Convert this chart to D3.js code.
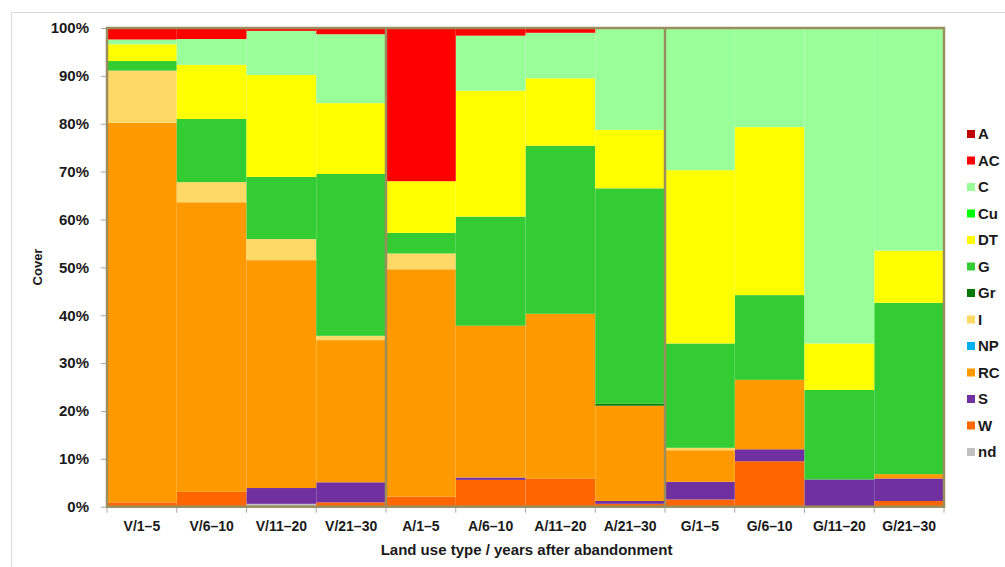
<!DOCTYPE html>
<html>
<head>
<meta charset="utf-8">
<script src="https://cdn.jsdelivr.net/npm/d3@7"></script>
<style>
  html, body { margin: 0; padding: 0; background: #fff; }
  svg { display: block; font-family: "Liberation Sans", Arial, sans-serif; }
</style>
</head>
<body>
<svg id="chart" width="1005" height="567"></svg>
<script>
// Land use type / years after abandonment
const categories = ["V/1–5", "V/6–10", "V/11–20", "V/21–30",
                    "A/1–5", "A/6–10", "A/11–20", "A/21–30",
                    "G/1–5", "G/6–10", "G/11–20", "G/21–30"];

// Cover (%) per cover class, one value per category
const A  = [0, 0, 0, 0, 0, 0, 0, 0, 0, 0, 0, 0];
const AC = [2.4, 2.3, 0.6, 1.3, 32.0, 1.6, 1.0, 0, 0, 0, 0, 0];
const C  = [1.0, 5.4, 9.2, 14.4, 0, 11.5, 9.5, 21.3, 29.7, 20.7, 65.9, 46.5];
const Cu = [0, 0, 0, 0, 0, 0, 0, 0, 0, 0, 0, 0];
const DT = [3.5, 11.3, 21.3, 14.8, 10.8, 26.3, 14.1, 12.2, 36.2, 35.1, 9.7, 10.9];
const G  = [2.0, 13.2, 13.0, 33.8, 4.3, 22.8, 35.1, 45.0, 21.8, 17.7, 18.7, 35.8];
const Gr = [0, 0, 0, 0, 0, 0, 0, 0.4, 0, 0, 0, 0];
const I  = [10.9, 4.2, 4.4, 0.9, 3.3, 0, 0, 0, 0.5, 0, 0, 0];
const NP = [0, 0, 0, 0, 0, 0, 0, 0, 0, 0, 0, 0];
const RC = [79.3, 60.5, 47.6, 29.7, 47.5, 31.7, 34.4, 19.9, 6.6, 14.5, 0, 0.9];
const S  = [0, 0, 3.3, 4.2, 0, 0.5, 0, 0.6, 3.7, 2.5, 5.7, 4.7];
const W  = [0.9, 3.1, 0, 0.9, 2.1, 5.6, 5.9, 0.6, 1.5, 9.5, 0, 1.2];
const nd = [0, 0, 0.6, 0, 0, 0, 0, 0, 0, 0, 0, 0];

// Legend order (top to bottom); stacked bottom-up in reverse
const seriesNames = ["A", "AC", "C", "Cu", "DT", "G", "Gr", "I", "NP", "RC", "S", "W", "nd"];
const seriesValues = { A, AC, C, Cu, DT, G, Gr, I, NP, RC, S, W, nd };
const seriesColors = ["#C00000", "#FF0000", "#99FF99", "#00FF00", "#FFFF00", "#33CC33",
                      "#007A00", "#FFD966", "#00B0F0", "#FF9900", "#7030A0", "#FF6600", "#C0C0C0"];

const yTicks = [0, 10, 20, 30, 40, 50, 60, 70, 80, 90, 100];
const groupBreaks = ["A/1–5", "G/1–5"];

// ---- layout ----
const svg = d3.select("#chart");
const plot = { left: 107, top: 28, width: 837, height: 478.7 };
const frameColor = "#9A8D5E";
const textColor = "#1a1a1a";

// outer chart frame
svg.append("rect")
  .attr("x", 11.5).attr("y", 12.5)
  .attr("width", 1010).attr("height", 600)
  .attr("fill", "none").attr("stroke", "#D9D9D9").attr("stroke-width", 1);

const x = d3.scaleBand().domain(categories).range([plot.left, plot.left + plot.width]).padding(0);
const y = d3.scaleLinear().domain([0, 100]).range([plot.top + plot.height, plot.top]);
const color = d3.scaleOrdinal().domain(seriesNames).range(seriesColors);

// table rows built from the series arrays
const rows = categories.map((cat, i) => {
  const r = { cat };
  seriesNames.forEach(k => { r[k] = seriesValues[k][i]; });
  return r;
});

const stackKeys = seriesNames.slice().reverse();
const stacked = d3.stack().keys(stackKeys)(rows);

const barsG = svg.append("g");
barsG.selectAll("g.series")
  .data(stacked)
  .join("g")
  .attr("class", "series")
  .attr("fill", d => color(d.key))
  .selectAll("rect")
  .data(d => d.filter(p => p[1] - p[0] > 0))
  .join("rect")
  .attr("x", d => x(d.data.cat))
  .attr("width", x.bandwidth())
  .attr("y", d => y(d[1]))
  .attr("height", d => y(d[0]) - y(d[1]));

// y axis
const yAxis = d3.axisLeft(y).tickValues(yTicks).tickFormat(d => d + "%").tickSize(6).tickPadding(12);
const yg = svg.append("g").attr("transform", `translate(${plot.left},0)`).call(yAxis);
yg.select(".domain").remove();
yg.selectAll(".tick line").attr("stroke", "#A6A6A6");
yg.selectAll(".tick text")
  .attr("font-size", 15).attr("font-weight", "bold").attr("fill", textColor);

// x axis
const xAxis = d3.axisBottom(x).tickSize(0).tickPadding(14);
const xg = svg.append("g").attr("transform", `translate(0,${plot.top + plot.height})`).call(xAxis);
xg.select(".domain").remove();
xg.selectAll(".tick text")
  .attr("font-size", 14).attr("font-weight", "bold").attr("fill", textColor);
// category boundary ticks
const boundaries = categories.map(c => x(c)).concat([plot.left + plot.width]);
svg.append("g").selectAll("line")
  .data(boundaries)
  .join("line")
  .attr("x1", d => d).attr("x2", d => d)
  .attr("y1", plot.top + plot.height).attr("y2", plot.top + plot.height + 6)
  .attr("stroke", "#A6A6A6");

// group separators
svg.append("g").selectAll("line")
  .data(groupBreaks)
  .join("line")
  .attr("x1", d => x(d)).attr("x2", d => x(d))
  .attr("y1", plot.top).attr("y2", plot.top + plot.height)
  .attr("stroke", frameColor).attr("stroke-width", 2.5);

// plot frame
svg.append("rect")
  .attr("x", plot.left).attr("y", plot.top)
  .attr("width", plot.width).attr("height", plot.height)
  .attr("fill", "none").attr("stroke", frameColor).attr("stroke-width", 2.5);

// axis titles
svg.append("text")
  .attr("x", plot.left + plot.width / 2 + 1).attr("y", 555)
  .attr("text-anchor", "middle")
  .attr("font-size", 15).attr("font-weight", "bold").attr("fill", textColor)
  .text("Land use type / years after abandonment");

svg.append("text")
  .attr("transform", "translate(42,267) rotate(-90)")
  .attr("text-anchor", "middle")
  .attr("font-size", 13).attr("font-weight", "bold").attr("fill", textColor)
  .text("Cover");

// legend
const legend = svg.append("g").attr("transform", "translate(967,134)");
const item = legend.selectAll("g")
  .data(seriesNames)
  .join("g")
  .attr("transform", (d, i) => `translate(0,${i * 26.5})`);
item.append("rect")
  .attr("x", 0).attr("y", -4).attr("width", 8).attr("height", 8)
  .attr("fill", d => color(d));
item.append("text")
  .attr("x", 11).attr("y", 0).attr("dy", "0.36em")
  .attr("font-size", 15).attr("font-weight", "bold").attr("fill", textColor)
  .text(d => d);
</script>
</body>
</html>
